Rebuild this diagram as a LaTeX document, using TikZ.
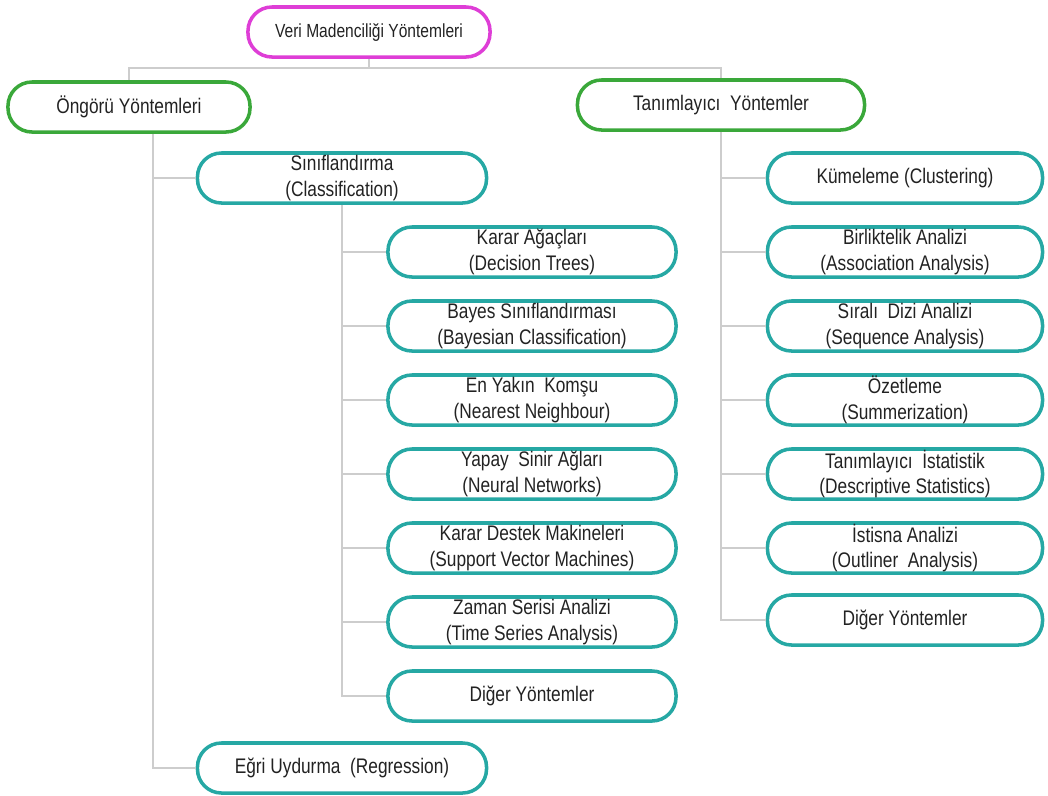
\documentclass[tikz,border=0pt]{standalone}
\usepackage{fontspec}
\setmainfont{Liberation Sans}[FakeStretch=0.82]
\usepackage{tikz}
\usetikzlibrary{positioning, calc}

\definecolor{rootpink}{RGB}{222,62,214}
\definecolor{groupgreen}{RGB}{58,168,58}
\definecolor{leafteal}{RGB}{38,168,164}
\definecolor{linegray}{RGB}{205,205,205}
\definecolor{textdark}{RGB}{34,34,34}

\begin{document}
\begin{tikzpicture}[x=0.025cm, y=-0.025cm,
    box/.style={rectangle, rounded corners=0.6cm, line width=2.5pt, minimum height=1.25cm,
                inner xsep=4pt, inner ysep=0pt, align=center, text=textdark,
                font=\fontsize{15}{18}\selectfont},
    root/.style={box, draw=rootpink, minimum width=6.05cm, font=\fontsize{13.5}{16}\selectfont},
    group/.style={box, draw=groupgreen},
    leaf/.style={box, draw=leafteal},
    leftleaf/.style={leaf, minimum width=7.2cm},
    rightleaf/.style={leaf, minimum width=6.875cm},
    conn/.style={draw=linegray, line width=1.2pt}
]
    \useasboundingbox (0,0) rectangle (1048,796);

    % Root and the two groups
    \node[root] (vm) at (369, 32) {Veri Madenciliği Yöntemleri};
    \node[group, minimum width=6.05cm] (ongoru) at (129, 107) {Öngörü Yöntemleri};
    \node[group, minimum width=7.175cm] (tanim) at (721, 105) {Tanımlayıcı\ \ Yöntemler};

    % Predictive methods
    \node[leaf, minimum width=7.225cm] (sinif) at (342, 178) {Sınıflandırma\\(Classification)};
    \node[leaf, minimum width=7.225cm] (egri) at (342, 768) {Eğri Uydurma\ \ (Regression)};

    \node[leftleaf] (karar) at (532, 252) {Karar Ağaçları\\(Decision Trees)};
    \node[leftleaf] (bayes) at (532, 326) {Bayes Sınıflandırması\\(Bayesian Classification)};
    \node[leftleaf] (yakin) at (532, 400) {En Yakın\ \ Komşu\\(Nearest Neighbour)};
    \node[leftleaf] (yapay) at (532, 474) {Yapay\ \ Sinir Ağları\\(Neural Networks)};
    \node[leftleaf] (svm) at (532, 548) {Karar Destek Makineleri\\(Support Vector Machines)};
    \node[leftleaf] (zaman) at (532, 622) {Zaman Serisi Analizi\\(Time Series Analysis)};
    \node[leftleaf] (digerL) at (532, 696) {Diğer Yöntemler};

    % Descriptive methods
    \node[rightleaf] (kume) at (905, 178) {Kümeleme (Clustering)};
    \node[rightleaf] (birlik) at (905, 252) {Birliktelik Analizi\\(Association Analysis)};
    \node[rightleaf] (sirali) at (905, 326) {Sıralı\ \ Dizi Analizi\\(Sequence Analysis)};
    \node[rightleaf] (ozet) at (905, 400) {Özetleme\\(Summerization)};
    \node[rightleaf] (istat) at (905, 474) {Tanımlayıcı\ \ İstatistik\\(Descriptive Statistics)};
    \node[rightleaf] (istisna) at (905, 548) {İstisna Analizi\\(Outliner\ \ Analysis)};
    \node[rightleaf] (digerR) at (905, 620) {Diğer Yöntemler};

    % Top bus
    \coordinate (bus) at (369, 68);
    \draw[conn] (vm.south) -- (bus);
    \draw[conn] (ongoru.north) |- (bus) -| (tanim.north);

    % Left spine
    \coordinate (ospine) at ($(ongoru.south)+(24,0)$);
    \draw[conn] (ospine) |- (egri.west);
    \draw[conn] (ospine |- sinif.west) -- (sinif.west);

    % Classification spine
    \draw[conn] (sinif.south) |- (digerL.west);
    \foreach \n in {karar, bayes, yakin, yapay, svm, zaman}
        \draw[conn] (sinif.south |- \n.west) -- (\n.west);

    % Right spine
    \draw[conn] (tanim.south) |- (digerR.west);
    \foreach \n in {kume, birlik, sirali, ozet, istat, istisna}
        \draw[conn] (tanim.south |- \n.west) -- (\n.west);

\end{tikzpicture}
\end{document}
